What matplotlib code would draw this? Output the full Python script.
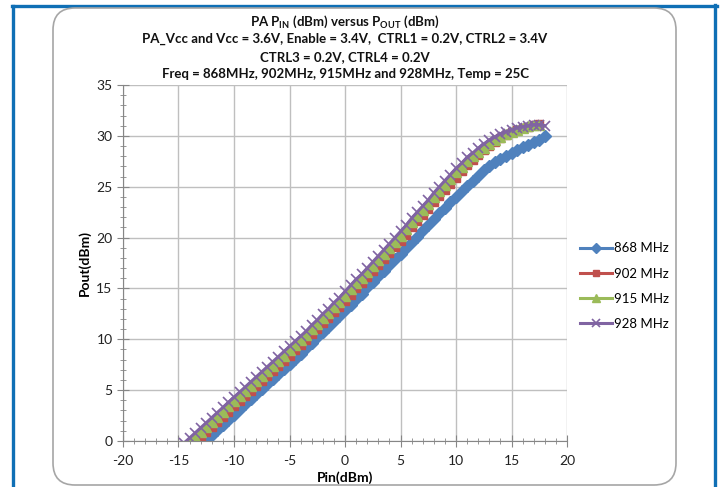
import matplotlib
matplotlib.use('Agg')
import matplotlib.pyplot as plt
from matplotlib.patches import FancyBboxPatch
from matplotlib.lines import Line2D
from matplotlib.ticker import MultipleLocator

plt.rcParams['font.family'] = ['Lato', 'DejaVu Sans']
plt.rcParams['mathtext.fontset'] = 'custom'
plt.rcParams['mathtext.rm'] = 'Lato:bold'
plt.rcParams['mathtext.bf'] = 'Lato:bold'
plt.rcParams['axes.unicode_minus'] = False

# input power sweeps (dBm), 0.5 dB steps
pin_868 = [-13.0, -12.5, -12.0, -11.5, -11.0, -10.5, -10.0, -9.5, -9.0, -8.5, -8.0, -7.5, -7.0, -6.5,
           -6.0, -5.5, -5.0, -4.5, -4.0, -3.5, -3.0, -2.5, -2.0, -1.5, -1.0, -0.5, 0.0, 0.5, 1.0, 1.5,
           2.0, 2.5, 3.0, 3.5, 4.0, 4.5, 5.0, 5.5, 6.0, 6.5, 7.0, 7.5, 8.0, 8.5, 9.0, 9.5, 10.0, 10.5,
           11.0, 11.5, 12.0, 12.5, 13.0, 13.5, 14.0, 14.5, 15.0, 15.5, 16.0, 16.5, 17.0, 17.5, 18.0]
pout_868 = [-0.4, 0.1, 0.6, 1.1, 1.6, 2.1, 2.6, 3.1, 3.6, 4.1, 4.6, 5.1, 5.6, 6.1,
            6.6, 7.1, 7.6, 8.1, 8.6, 9.1, 9.6, 10.2, 10.7, 11.2, 11.8, 12.3, 12.9, 13.4, 14.0, 14.5,
            15.1, 15.6, 16.2, 16.7, 17.3, 17.9, 18.4, 19.0, 19.6, 20.1, 20.7, 21.2, 21.8, 22.4, 22.9, 23.5, 24.0, 24.6,
            25.1, 25.6, 26.1, 26.6, 27.0, 27.4, 27.7, 28.0, 28.3, 28.6, 28.9, 29.1, 29.4, 29.6, 30.0]

pin_902 = [-14.0, -13.5, -13.0, -12.5, -12.0, -11.5, -11.0, -10.5, -10.0, -9.5, -9.0, -8.5, -8.0, -7.5,
           -7.0, -6.5, -6.0, -5.5, -5.0, -4.5, -4.0, -3.5, -3.0, -2.5, -2.0, -1.5, -1.0, -0.5, 0.0, 0.5,
           1.0, 1.5, 2.0, 2.5, 3.0, 3.5, 4.0, 4.5, 5.0, 5.5, 6.0, 6.5, 7.0, 7.5, 8.0, 8.5, 9.0, 9.5,
           10.0, 10.5, 11.0, 11.5, 12.0, 12.5, 13.0, 13.5, 14.0, 14.5, 15.0, 15.5, 16.0, 16.5, 17.0, 17.5]
pout_902 = [-0.6, -0.1, 0.4, 0.9, 1.4, 1.9, 2.4, 2.9, 3.4, 3.9, 4.4, 4.9, 5.4, 5.9,
            6.4, 6.9, 7.4, 7.9, 8.4, 8.9, 9.4, 9.9, 10.5, 11.0, 11.6, 12.1, 12.7, 13.2, 13.8, 14.4,
            15.0, 15.5, 16.1, 16.7, 17.3, 17.9, 18.5, 19.1, 19.7, 20.3, 21.0, 21.6, 22.2, 22.8, 23.5, 24.1, 24.7, 25.3,
            25.9, 26.5, 27.1, 27.6, 28.1, 28.6, 29.0, 29.4, 29.8, 30.1, 30.4, 30.6, 30.8, 30.9, 31.1, 31.2]

pin_915 = [-14.5, -14.0, -13.5, -13.0, -12.5, -12.0, -11.5, -11.0, -10.5, -10.0, -9.5, -9.0, -8.5, -8.0,
           -7.5, -7.0, -6.5, -6.0, -5.5, -5.0, -4.5, -4.0, -3.5, -3.0, -2.5, -2.0, -1.5, -1.0, -0.5, 0.0,
           0.5, 1.0, 1.5, 2.0, 2.5, 3.0, 3.5, 4.0, 4.5, 5.0, 5.5, 6.0, 6.5, 7.0, 7.5, 8.0, 8.5, 9.0,
           9.5, 10.0, 10.5, 11.0, 11.5, 12.0, 12.5, 13.0, 13.5, 14.0, 14.5, 15.0, 15.5, 16.0, 16.5, 17.0, 17.5]
pout_915 = [-0.6, -0.1, 0.4, 0.9, 1.4, 1.9, 2.4, 2.9, 3.4, 3.9, 4.4, 4.9, 5.4, 5.9,
            6.4, 6.9, 7.4, 7.9, 8.4, 8.9, 9.4, 9.9, 10.4, 11.0, 11.5, 12.1, 12.6, 13.2, 13.7, 14.3,
            14.9, 15.5, 16.0, 16.6, 17.2, 17.8, 18.4, 19.0, 19.6, 20.2, 20.8, 21.5, 22.1, 22.7, 23.3, 24.0, 24.6, 25.2,
            25.8, 26.4, 26.9, 27.5, 28.0, 28.4, 28.8, 29.2, 29.6, 29.9, 30.2, 30.4, 30.6, 30.8, 31.0, 31.1, 31.1]

pin_928 = [-15.0, -14.5, -14.0, -13.5, -13.0, -12.5, -12.0, -11.5, -11.0, -10.5, -10.0, -9.5, -9.0, -8.5,
           -8.0, -7.5, -7.0, -6.5, -6.0, -5.5, -5.0, -4.5, -4.0, -3.5, -3.0, -2.5, -2.0, -1.5, -1.0, -0.5,
           0.0, 0.5, 1.0, 1.5, 2.0, 2.5, 3.0, 3.5, 4.0, 4.5, 5.0, 5.5, 6.0, 6.5, 7.0, 7.5, 8.0, 8.5,
           9.0, 9.5, 10.0, 10.5, 11.0, 11.5, 12.0, 12.5, 13.0, 13.5, 14.0, 14.5, 15.0, 15.5, 16.0, 16.5,
           17.0, 17.5, 18.0]
pout_928 = [-0.7, -0.2, 0.3, 0.8, 1.3, 1.8, 2.3, 2.8, 3.3, 3.8, 4.3, 4.8, 5.3, 5.8,
            6.3, 6.8, 7.3, 7.8, 8.3, 8.8, 9.3, 9.8, 10.3, 10.8, 11.4, 11.9, 12.5, 13.0, 13.6, 14.1,
            14.7, 15.3, 15.9, 16.4, 17.0, 17.6, 18.2, 18.8, 19.4, 20.0, 20.6, 21.2, 21.9, 22.5, 23.1, 23.7, 24.4, 25.0,
            25.6, 26.2, 26.8, 27.3, 27.9, 28.3, 28.8, 29.2, 29.6, 29.9, 30.2, 30.4, 30.6, 30.8, 30.9, 31.0,
            31.1, 31.1, 31.0]

series_labels = ['868 MHz', '902 MHz', '915 MHz', '928 MHz']
title_lines = ['PA P$_{\\mathrm{IN}}$ (dBm) versus P$_{\\mathrm{OUT}}$ (dBm)',
               'PA_Vcc and Vcc = 3.6V, Enable = 3.4V,  CTRL1 = 0.2V, CTRL2 = 3.4V',
               'CTRL3 = 0.2V, CTRL4 = 0.2V',
               'Freq = 868MHz, 902MHz, 915MHz and 928MHz, Temp = 25C']

fig = plt.figure(figsize=(7.22, 4.87), dpi=100)
fig.patch.set_facecolor('white')

# outer blue frame and the grey rounded chart box (kept behind the axes)
blue = '#0F6FB5'
fig.add_artist(Line2D([0.133, 0.133], [0, 4.81], color=blue, lw=2.4, transform=fig.dpi_scale_trans, zorder=-2))
fig.add_artist(Line2D([0.12, 7.165], [4.81, 4.81], color=blue, lw=2.4, transform=fig.dpi_scale_trans, zorder=-2))
fig.add_artist(Line2D([7.15, 7.15], [0, 4.82], color=blue, lw=2.4, transform=fig.dpi_scale_trans, zorder=-2))
fig.add_artist(FancyBboxPatch((0.53, 0.02), 6.23, 4.77, boxstyle='round,pad=0,rounding_size=0.22',
                              facecolor='white', edgecolor='#A6A6A6', lw=1.2,
                              transform=fig.dpi_scale_trans, zorder=-1))

ax = fig.add_axes([123 / 722, 46 / 487, 444 / 722, 356 / 487])
ax.set_facecolor('none')
ax.set_zorder(1)

ax.plot(pin_868, pout_868, color='#4F81BD', lw=2.2, marker='D', ms=6, label=series_labels[0])
ax.plot(pin_902, pout_902, color='#C0504D', lw=2.2, marker='s', ms=5.5, label=series_labels[1])
ax.plot(pin_915, pout_915, color='#9BBB59', lw=2.2, marker='^', ms=7, label=series_labels[2])
ax.plot(pin_928, pout_928, color='#8064A2', lw=2.2, marker='x', ms=7, mew=1.2, label=series_labels[3])

ax.set_xlim(-20, 20)
ax.set_ylim(0, 35)
ax.xaxis.set_major_locator(MultipleLocator(5))
ax.yaxis.set_major_locator(MultipleLocator(5))
ax.xaxis.set_minor_locator(MultipleLocator(1))
ax.yaxis.set_minor_locator(MultipleLocator(1))
ax.grid(True, which='major', color='#BFBFBF', lw=1.0)
ax.set_axisbelow(True)
for s in ['top', 'right']:
    ax.spines[s].set_visible(False)
for s in ['left', 'bottom']:
    ax.spines[s].set_color('#868686')
ax.tick_params(which='major', direction='inout', length=8, color='#868686', labelsize=10, labelcolor='#222222')
ax.tick_params(which='minor', direction='inout', length=5, color='#868686')
ax.tick_params(axis='x', pad=6)

ax.set_xlabel('Pin(dBm)', fontsize=10, fontweight='bold', labelpad=3)
ax.set_ylabel('Pout(dBm)', fontsize=10, fontweight='bold', labelpad=4)

for i, line in enumerate(title_lines):
    fig.text(345 / 722, 1 - (22 + 17.3 * i) / 487, line, ha='center', va='center',
             fontsize=9.5, fontweight='bold', color='#111111')

ax.legend(loc='center left', bbox_to_anchor=(1.0, 0.435), frameon=False, fontsize=9.5,
          handlelength=2.4, handletextpad=0.2, labelspacing=1.0, borderaxespad=0.6,
          markerscale=0.85)

fig.savefig('out.png', dpi=100)
